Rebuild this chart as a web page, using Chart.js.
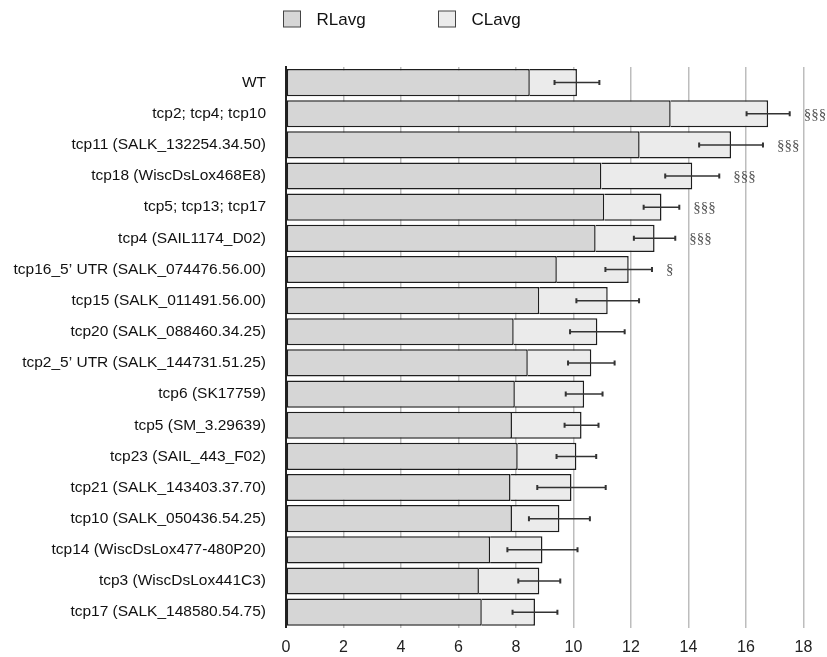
<!DOCTYPE html>
<html>
<head>
<meta charset="utf-8">
<script src="https://cdn.jsdelivr.net/npm/chart.js@4/dist/chart.umd.min.js"></script>
<style>
  body { margin: 0; background: #fff; }
  #rootChart { display: block; }
</style>
</head>
<body>
<canvas id="rootChart" width="827" height="657"></canvas>
<script>
// Tên các dòng (trục y)
const lineNames = [
  'WT',
  'tcp2; tcp4; tcp10',
  'tcp11 (SALK_132254.34.50)',
  'tcp18 (WiscDsLox468E8)',
  'tcp5; tcp13; tcp17',
  'tcp4 (SAIL1174_D02)',
  'tcp16_5\u2019 UTR (SALK_074476.56.00)',
  'tcp15 (SALK_011491.56.00)',
  'tcp20 (SALK_088460.34.25)',
  'tcp2_5\u2019 UTR (SALK_144731.51.25)',
  'tcp6 (SK17759)',
  'tcp5 (SM_3.29639)',
  'tcp23 (SAIL_443_F02)',
  'tcp21 (SALK_143403.37.70)',
  'tcp10 (SALK_050436.54.25)',
  'tcp14 (WiscDsLox477-480P20)',
  'tcp3 (WiscDsLox441C3)',
  'tcp17 (SALK_148580.54.75)'
];

// Giá trị trung bình
const rlAvg = [8.48, 13.38, 12.30, 10.97, 11.07, 10.77, 9.42, 8.81, 7.92, 8.41, 7.96, 7.86, 8.06, 7.81, 7.86, 7.10, 6.71, 6.81];
const clAvg = [1.64, 3.39, 3.18, 3.16, 1.99, 2.05, 2.50, 2.38, 2.91, 2.21, 2.41, 2.42, 2.04, 2.12, 1.65, 1.82, 2.10, 1.85];

// Sai số (cộng/trừ quanh tổng RL + CL)
const totalErr = [0.78, 0.75, 1.11, 0.94, 0.62, 0.72, 0.81, 1.09, 0.95, 0.81, 0.64, 0.59, 0.69, 1.19, 1.06, 1.22, 0.73, 0.78];

// Ký hiệu ý nghĩa thống kê
const sigMarks = ['', '§§§', '§§§', '§§§', '§§§', '§§§', '§', '', '', '', '', '', '', '', '', '', '', ''];

// Nhãn trục x
const xTicks = [0, 2, 4, 6, 8, 10, 12, 14, 16, 18];

// Vẽ thanh sai số và ký hiệu §
const errorBarPlugin = {
  id: 'errorBars',
  afterDatasetsDraw(chart) {
    const ctx = chart.ctx;
    const xs = chart.scales.x;
    const ys = chart.scales.y;
    ctx.save();
    lineNames.forEach((name, i) => {
      const total = rlAvg[i] + clAvg[i];
      const y = ys.getPixelForValue(i);
      const x1 = xs.getPixelForValue(total - totalErr[i]);
      const x2 = xs.getPixelForValue(total + totalErr[i]);
      ctx.strokeStyle = '#333';
      ctx.lineWidth = 1.5;
      ctx.beginPath();
      ctx.moveTo(x1, y);
      ctx.lineTo(x2, y);
      ctx.stroke();
      ctx.lineWidth = 2;
      ctx.beginPath();
      ctx.moveTo(x1, y - 2.5);
      ctx.lineTo(x1, y + 2.5);
      ctx.moveTo(x2, y - 2.5);
      ctx.lineTo(x2, y + 2.5);
      ctx.stroke();

      if (sigMarks[i]) {
        ctx.fillStyle = '#555';
        ctx.font = '15px "Liberation Serif", serif';
        ctx.textAlign = 'left';
        ctx.textBaseline = 'middle';
        ctx.fillText(sigMarks[i], x2 + 14, y + 1);
      }
    });
    ctx.restore();
  }
};

// Chú thích tự vẽ ở phía trên
const topLegendPlugin = {
  id: 'topLegend',
  afterDraw(chart) {
    const ctx = chart.ctx;
    ctx.save();
    chart.data.datasets.forEach((ds, i) => {
      const bx = 283.5 + i * 155;
      ctx.fillStyle = ds.backgroundColor;
      ctx.fillRect(bx, 11, 17, 16);
      ctx.strokeStyle = '#444';
      ctx.lineWidth = 1;
      ctx.strokeRect(bx, 11, 17, 16);
      ctx.fillStyle = '#111';
      ctx.font = '17px "Liberation Sans", Arial, sans-serif';
      ctx.textAlign = 'left';
      ctx.textBaseline = 'middle';
      ctx.fillText(ds.label, bx + 33, 20);
    });
    ctx.restore();
  }
};

const ctx = document.getElementById('rootChart').getContext('2d');
const rootChart = new Chart(ctx, {
  type: 'bar',
  data: {
    labels: lineNames,
    datasets: [
      {
        label: 'RLavg',
        data: rlAvg,
        backgroundColor: '#d6d6d6',
        borderColor: '#1e1e1e',
        borderWidth: 1.5,
        borderSkipped: false,
        barPercentage: 0.872,
        categoryPercentage: 1
      },
      {
        label: 'CLavg',
        data: clAvg,
        backgroundColor: '#ebebeb',
        borderColor: '#1e1e1e',
        borderWidth: 1.5,
        borderSkipped: 'start',
        barPercentage: 0.872,
        categoryPercentage: 1
      }
    ]
  },
  options: {
    indexAxis: 'y',
    responsive: false,
    animation: false,
    layout: {
      padding: { top: 67, right: 23.5, bottom: 0, left: 0 }
    },
    plugins: {
      legend: { display: false },
      tooltip: { enabled: false }
    },
    scales: {
      x: {
        stacked: true,
        min: 0,
        max: 18,
        afterBuildTicks: (scale) => {
          scale.ticks = xTicks.map(v => ({ value: v }));
        },
        afterFit: (scale) => { scale.height = 26.5; },
        grid: {
          color: '#bdbdbd',
          lineWidth: 1.5,
          drawTicks: false
        },
        border: { display: false },
        ticks: {
          padding: 10,
          color: '#222',
          font: { family: '"Liberation Sans", Arial, sans-serif', size: 16 }
        }
      },
      y: {
        stacked: true,
        afterFit: (scale) => { scale.width = 286; },
        grid: { display: false, drawTicks: false },
        border: { display: true, color: '#222', width: 2 },
        ticks: {
          padding: 20,
          color: '#111',
          font: { family: '"Liberation Sans", Arial, sans-serif', size: 15.5 }
        }
      }
    }
  },
  plugins: [errorBarPlugin, topLegendPlugin]
});
</script>
</body>
</html>
